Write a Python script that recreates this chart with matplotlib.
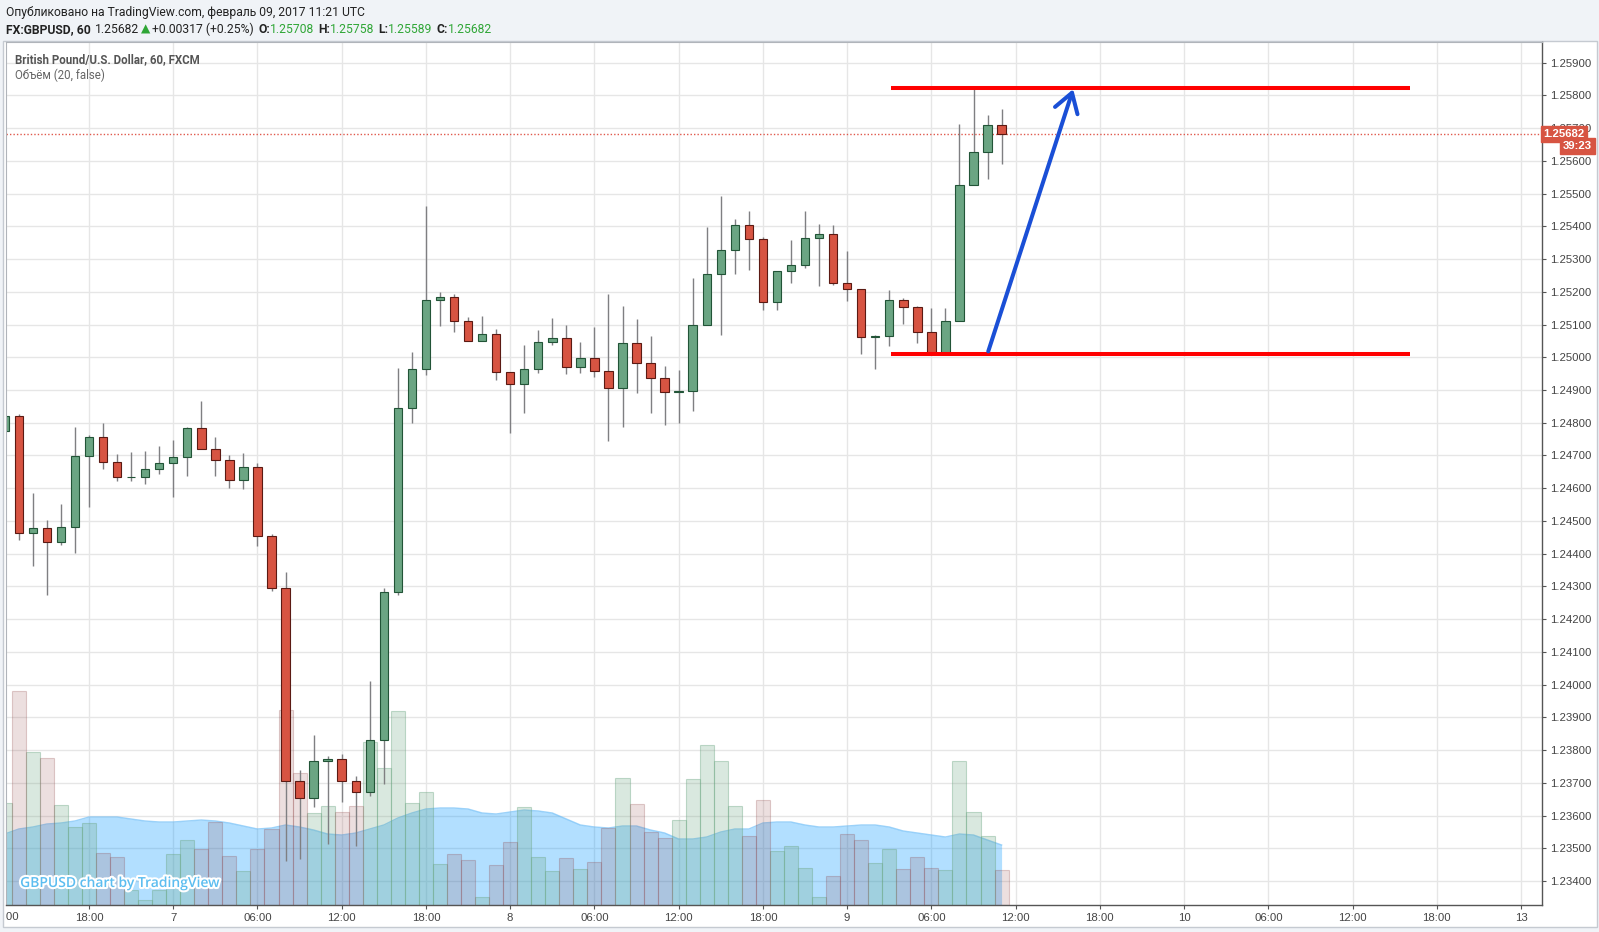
import matplotlib
matplotlib.use('Agg')
import matplotlib.pyplot as plt
import matplotlib.patheffects as pe
import numpy as np
from matplotlib.patches import Rectangle
from matplotlib.transforms import Bbox, TransformedBbox, offset_copy

# hourly bars, hour index counted from 6 Feb 00:00 (weekend removed)
hours = np.arange(12, 84)

opens = [1.24775, 1.24820, 1.24462, 1.24480, 1.24436, 1.24483, 1.24699, 1.24755, 1.24679, 1.24633,
         1.24633, 1.24658, 1.24676, 1.24694, 1.24784, 1.24721, 1.24685, 1.24625, 1.24664, 1.24454,
         1.24296, 1.23707, 1.23654, 1.23767, 1.23773, 1.23705, 1.23671, 1.23831, 1.24282, 1.24844,
         1.24963, 1.25175, 1.25184, 1.25111, 1.25050, 1.25072, 1.24954, 1.24917, 1.24963, 1.25047,
         1.25060, 1.24969, 1.24999, 1.24957, 1.24906, 1.25044, 1.24983, 1.24938, 1.24895, 1.24897,
         1.25100, 1.25255, 1.25327, 1.25403, 1.25360, 1.25170, 1.25263, 1.25281, 1.25363, 1.25378,
         1.25226, 1.25208, 1.25063, 1.25065, 1.25176, 1.25155, 1.25076, 1.25011, 1.25112, 1.25527,
         1.25627, 1.25708]
highs = [1.24830, 1.24827, 1.24585, 1.24504, 1.24553, 1.24787, 1.24764, 1.24800, 1.24706, 1.24710,
         1.24713, 1.24730, 1.24748, 1.24788, 1.24866, 1.24757, 1.24700, 1.24709, 1.24676, 1.24459,
         1.24344, 1.23739, 1.23846, 1.23781, 1.23788, 1.23722, 1.24010, 1.24295, 1.24967, 1.25016,
         1.25461, 1.25200, 1.25194, 1.25123, 1.25127, 1.25085, 1.24954, 1.25037, 1.25082, 1.25121,
         1.25099, 1.25048, 1.25094, 1.25193, 1.25157, 1.25116, 1.25066, 1.24973, 1.24961, 1.25242,
         1.25398, 1.25492, 1.25422, 1.25448, 1.25367, 1.25263, 1.25357, 1.25446, 1.25406, 1.25403,
         1.25325, 1.25208, 1.25069, 1.25207, 1.25180, 1.25157, 1.25150, 1.25152, 1.25714, 1.25820,
         1.25741, 1.25758]
lows = [1.24765, 1.24443, 1.24361, 1.24274, 1.24427, 1.24403, 1.24542, 1.24660, 1.24623, 1.24623,
        1.24614, 1.24643, 1.24573, 1.24638, 1.24721, 1.24638, 1.24602, 1.24599, 1.24425, 1.24286,
        1.23462, 1.23467, 1.23625, 1.23513, 1.23643, 1.23506, 1.23661, 1.23697, 1.24275, 1.24798,
        1.24947, 1.25096, 1.25077, 1.25050, 1.25050, 1.24931, 1.24768, 1.24829, 1.24951, 1.25038,
        1.24948, 1.24953, 1.24939, 1.24745, 1.24786, 1.24892, 1.24829, 1.24792, 1.24798, 1.24837,
        1.25100, 1.25068, 1.25254, 1.25266, 1.25144, 1.25144, 1.25226, 1.25272, 1.25217, 1.25221,
        1.25172, 1.25011, 1.24965, 1.25034, 1.25102, 1.25044, 1.25011, 1.25011, 1.25112, 1.25526,
        1.25545, 1.25589]
closes = [1.24820, 1.24462, 1.24480, 1.24437, 1.24483, 1.24699, 1.24755, 1.24679, 1.24633, 1.24634,
          1.24658, 1.24676, 1.24694, 1.24784, 1.24721, 1.24685, 1.24625, 1.24664, 1.24454, 1.24296,
          1.23707, 1.23654, 1.23767, 1.23773, 1.23705, 1.23671, 1.23831, 1.24282, 1.24844, 1.24963,
          1.25175, 1.25184, 1.25111, 1.25050, 1.25072, 1.24954, 1.24917, 1.24963, 1.25047, 1.25060,
          1.24969, 1.24999, 1.24957, 1.24906, 1.25044, 1.24983, 1.24938, 1.24895, 1.24897, 1.25100,
          1.25255, 1.25327, 1.25403, 1.25360, 1.25170, 1.25263, 1.25281, 1.25363, 1.25378, 1.25226,
          1.25208, 1.25063, 1.25065, 1.25176, 1.25155, 1.25076, 1.25011, 1.25112, 1.25527, 1.25627,
          1.25708, 1.25682]

# volume and its 20-bar average (relative units)
volume = [102, 214, 153, 147, 100, 78, 82, 52, 48, 15,
          5, 15, 51, 65, 56, 83, 49, 34, 56, 76,
          195, 132, 92, 99, 93, 99, 163, 137, 194, 102,
          113, 41, 51, 45, 8, 40, 63, 98, 48, 34,
          47, 36, 43, 77, 127, 101, 73, 67, 85, 126,
          160, 144, 99, 69, 105, 54, 59, 37, 8, 29,
          71, 65, 42, 56, 36, 48, 37, 35, 144, 93,
          69, 35]
volume_ma = [71, 76, 78, 81, 82, 84, 88, 88, 88, 86,
             84, 83, 83, 84, 85, 84, 82, 79, 76, 77,
             80, 78, 75, 71, 70, 72, 76, 80, 87, 92,
             96, 97, 97, 96, 92, 91, 93, 95, 94, 92,
             86, 80, 78, 77, 79, 79, 75, 72, 66, 66,
             68, 73, 76, 76, 82, 83, 83, 80, 78, 78,
             79, 80, 80, 78, 74, 72, 70, 68, 71, 70,
             65, 60]
vol_span = 863

tick_pos = [18, 24, 30, 36, 42, 48, 54, 60, 66, 72, 78, 84, 90, 96, 102, 108, 114, 120]
tick_lab = ['18:00', '7', '06:00', '12:00', '18:00', '8', '06:00', '12:00', '18:00',
            '9', '06:00', '12:00', '18:00', '10', '06:00', '12:00', '18:00', '13']
price_ticks = np.round(np.arange(1.234, 1.2595, 0.001), 3)

# drawings
resistance = 1.25823
support = 1.25009
level_from, level_to = 75.1, 112.1
arrow_from = (82.05, 1.25018)
arrow_to = (88.1, 1.25819)

W, H = 1599, 932
fig = plt.figure(figsize=(W / 100, H / 100), dpi=100, facecolor='#f0f3f7')
fig.add_artist(Rectangle((3 / W, 1 - 927 / H), 1594 / W, 886 / H, transform=fig.transFigure,
                         fc='white', ec='#c5cad1', lw=1, zorder=-1))
ax = fig.add_axes([6 / W, 1 - 905 / H, 1536 / W, 863 / H])
ax.set_xlim(12.09, 121.49)
ax.set_ylim(1.23327, 1.25963)
ax.set_axisbelow(True)

for sp in ['left', 'top']:
    ax.spines[sp].set_color('#b0b4ba')
    ax.spines[sp].set_linewidth(0.8)
for sp in ['right', 'bottom']:
    ax.spines[sp].set_color('#555555')
    ax.spines[sp].set_linewidth(1)

ax.yaxis.tick_right()
ax.set_yticks(price_ticks)
ax.set_yticklabels(['%.5f' % p for p in price_ticks])
ax.set_xticks(tick_pos)
ax.set_xticklabels(tick_lab)
ax.tick_params(axis='both', colors='#555555', labelcolor='#444444', labelsize=8.2,
               length=3, width=0.8, pad=2.5)
for lab in ax.get_xticklabels() + ax.get_yticklabels():
    lab.set_family('Liberation Sans')
ax.grid(True, color='#e6e6e6', lw=1)
ax.axvline(12, color='#e6e6e6', lw=1, zorder=0.5)

# half-hidden first time label
first = ax.text(12, 0, '12:00',
                transform=offset_copy(ax.get_xaxis_transform(), fig=fig, y=-5.4, units='points'),
                ha='center', va='top', fontsize=8.2, color='#444444', family='Liberation Sans')
first.set_clip_box(TransformedBbox(Bbox([[6 / W, 0], [1, 1]]), fig.transFigure))
first.set_clip_on(True)

# volume pane
vt = ax.get_xaxis_transform()
vol = np.array(volume) / vol_span
ma = np.array(volume_ma) / vol_span
ax.fill_between(hours, 0, ma, color='#0096ff', alpha=0.3, lw=0, transform=vt, zorder=1)
ax.plot(hours, ma, color='#5ab4f5', lw=1, alpha=0.6, transform=vt, zorder=1.1)
up = np.array(closes) >= np.array(opens)
ax.bar(hours[up], vol[up], width=1, bottom=0, transform=vt, color=(0.42, 0.65, 0.51, 0.25),
       edgecolor=(0.42, 0.65, 0.51, 0.4), lw=0.8, zorder=1.2)
ax.bar(hours[~up], vol[~up], width=1, bottom=0, transform=vt, color=(0.55, 0.24, 0.24, 0.16),
       edgecolor=(0.55, 0.24, 0.24, 0.25), lw=0.8, zorder=1.2)

# candles
o = np.array(opens)
c = np.array(closes)
ax.vlines(hours, lows, highs, color='#7f7f82', lw=1, zorder=2)
body_lo = np.minimum(o, c)
body_h = np.maximum(np.abs(c - o), 0.00002)
ax.bar(hours[up], body_h[up], bottom=body_lo[up], width=0.6, color='#6ba583',
       edgecolor='#225437', lw=0.8, zorder=2.2)
ax.bar(hours[~up], body_h[~up], bottom=body_lo[~up], width=0.6, color='#d75442',
       edgecolor='#5b1a13', lw=0.8, zorder=2.2)

# last price line and labels
last = closes[-1]
ax.axhline(last, color='#e0584c', lw=1, ls=(0, (1, 1.5)), zorder=1.5)
ax.text(1.0008, last, '%.5f' % last, transform=ax.get_yaxis_transform(), ha='left', va='center',
        color='white', fontsize=8.2, fontweight='bold', family='Liberation Sans', zorder=10,
        clip_on=False, bbox=dict(boxstyle='square,pad=0.22', fc='#d75442', ec='#d75442'))
ax.annotate('39:23', xy=(1.0, last), xycoords=ax.get_yaxis_transform(), xytext=(50, -12),
            textcoords='offset pixels', ha='right', va='center', color='white', fontsize=8.2,
            fontweight='bold', family='Liberation Sans', zorder=10, annotation_clip=False,
            bbox=dict(boxstyle='square,pad=0.22', fc='#d75442', ec='#d75442'))

# hand drawn levels and arrow
ax.plot([level_from, level_to], [resistance, resistance], color='#ff0000', lw=2.9,
        solid_capstyle='butt', zorder=4)
ax.plot([level_from, level_to], [support, support], color='#ff0000', lw=2.9,
        solid_capstyle='butt', zorder=4)
ax.annotate('', xy=arrow_to, xytext=arrow_from, zorder=4,
            arrowprops=dict(arrowstyle='->,head_length=1.35,head_width=0.85', color='#1a4fd6',
                            lw=2.9, shrinkA=0, shrinkB=0))

# texts
ax.text(0.0058, 0.98, 'British Pound/U.S. Dollar, 60, FXCM', transform=ax.transAxes,
        ha='left', va='center', fontsize=8.3, fontweight='bold', color='#555555',
        family=['Roboto', 'DejaVu Sans'], zorder=5)
ax.text(0.0058, 0.9615, 'Объём (20, false)', transform=ax.transAxes, ha='left', va='center',
        fontsize=8.3, color='#666666', family=['Roboto', 'DejaVu Sans'], zorder=5)
ax.text(0.0092, 0.0255, 'GBPUSD chart by TradingView', transform=ax.transAxes, ha='left',
        va='center', fontsize=10, fontweight='semibold', color='#5cbdf0',
        family=['Open Sans', 'DejaVu Sans'], zorder=5,
        path_effects=[pe.withStroke(linewidth=3, foreground='white')])

fam = ['Roboto', 'DejaVu Sans']
fig.text(6 / W, 1 - 12.7 / H, 'Опубликовано на TradingView.com, февраль 09, 2017 11:21 UTC',
         ha='left', va='center', fontsize=8.7, color='#222222', family=fam)

green = '#2fa636'
parts = [('FX:GBPUSD, 60', '#222222', 'bold', 4), ('1.25682', '#222222', 'normal', 2),
         ('▲', green, 'normal', 2), ('+0.00317 (+0.25%)', '#222222', 'normal', 4),
         ('O:', '#222222', 'bold', 0), ('1.25708', green, 'normal', 4),
         ('H:', '#222222', 'bold', 0), ('1.25758', green, 'normal', 4),
         ('L:', '#222222', 'bold', 0), ('1.25589', green, 'normal', 4),
         ('C:', '#222222', 'bold', 0), ('1.25682', green, 'normal', 0)]
renderer = fig.canvas.get_renderer()
xpix = 6
for s, col, wt, gap in parts:
    t = fig.text(xpix / W, 1 - 29.3 / H, s, ha='left', va='center', fontsize=8.7, color=col,
                 fontweight=wt, family=fam)
    xpix += t.get_window_extent(renderer=renderer).width + gap

fig.savefig('out.png', dpi=100, facecolor=fig.get_facecolor())
